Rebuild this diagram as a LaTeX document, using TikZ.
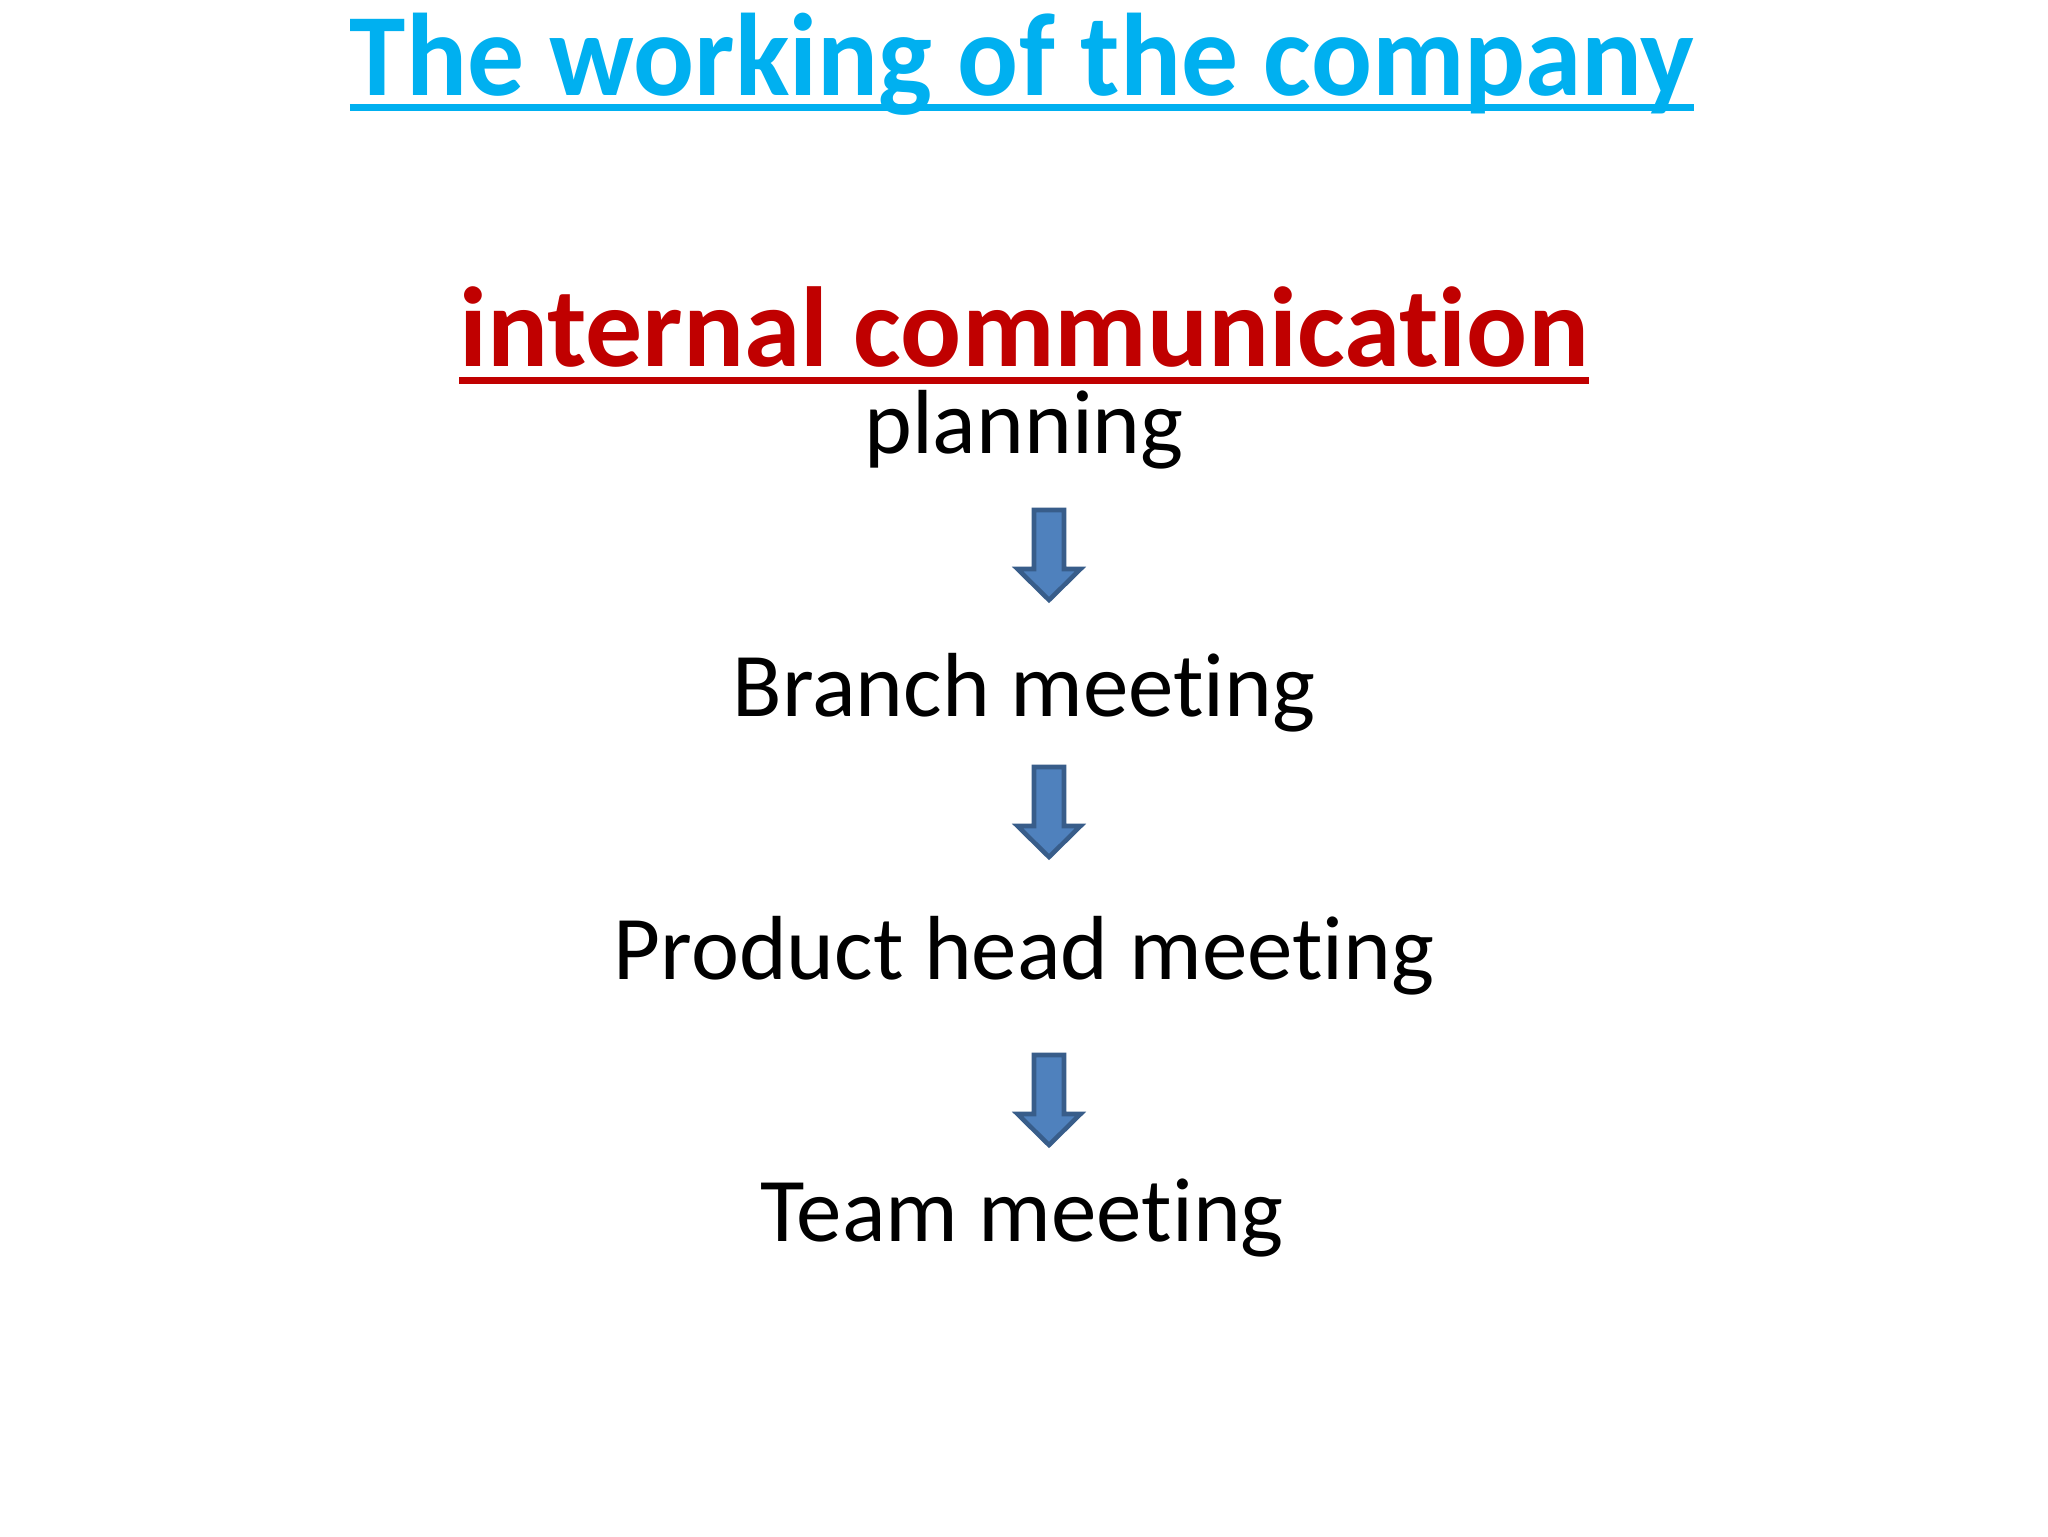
\documentclass[tikz,border=0pt]{standalone}
\usepackage{fontspec}
\setmainfont[Ligatures={NoCommon}]{Carlito}
\definecolor{titleblue}{HTML}{00B0F0}
\definecolor{darkred}{HTML}{C00000}
\definecolor{arrowfill}{HTML}{4F81BD}
\definecolor{arrowline}{HTML}{385D8A}
\begin{document}
\begin{tikzpicture}[x=0.3516pt,y=-0.3516pt,
  every node/.style={inner sep=0pt,outer sep=0pt,anchor=base},
  titletext/.style={font=\fontsize{41.3}{50}\selectfont\bfseries,text=titleblue},
  headtext/.style={font=\fontsize{40}{48}\selectfont\bfseries,text=darkred},
  subtext/.style={font=\fontsize{32}{38}\selectfont},
  steptext/.style={font=\fontsize{32}{38}\selectfont},
  downarrow/.style={fill=arrowfill,draw=arrowline,line width=1.6pt,line join=miter}
]
\useasboundingbox (0,0) rectangle (2048,1536);
\fill[white] (0,0) rectangle (2048,1536);

\node[titletext] (title) at (1022,95) {\scalebox{0.967}[1]{The working of the company}};
\draw[titleblue,line width=2.2pt] ([yshift=-4.4pt]title.base west) -- ([yshift=-4.4pt]title.base east);

\node[headtext] (head) at (1024,366) {internal communication};
\draw[darkred,line width=2.4pt] ([yshift=-5pt]head.base west) -- ([yshift=-5pt]head.base east);

\node[subtext] (plan) at (1024,453) {planning};
\node[steptext] (branch) at (1024,716) {Branch meeting};
\node[steptext] (product) at (1024,979) {Product head meeting};
\node[steptext] (team) at (1022,1241) {Team meeting};

\foreach \t/\n in {510/a1,767/a2,1055/a3}{
  \draw[downarrow] (1034,\t) -- (1064,\t) -- (1064,\t+59) -- (1080.5,\t+59) -- (1049,\t+90)
    -- (1017.5,\t+59) -- (1034,\t+59) -- cycle;
}
\end{tikzpicture}
\end{document}
